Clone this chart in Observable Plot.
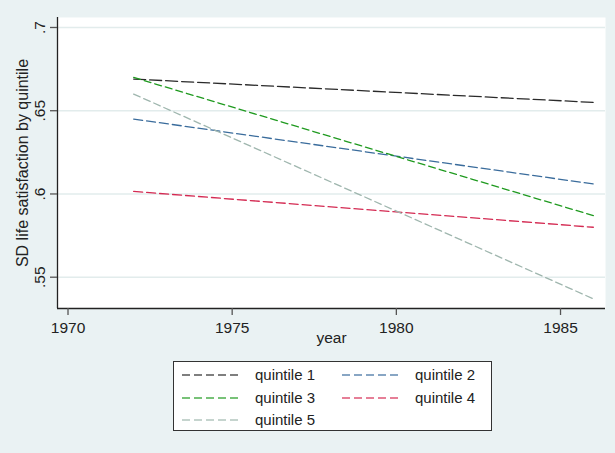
<!DOCTYPE html>
<html>
<head>
<meta charset="utf-8">
<script src="https://cdn.jsdelivr.net/npm/d3@7"></script>
<script src="https://cdn.jsdelivr.net/npm/@observablehq/plot@0.6"></script>
<style>
  html, body { margin: 0; padding: 0; background: #EAF2F3; }
  #wrap { position: relative; width: 615px; height: 453px; overflow: hidden; font-family: "Liberation Sans", Arial, sans-serif; }
  #legend { position: absolute; left: 173px; top: 361px; width: 319px; height: 70px; background: #fff; border: 1px solid #333; box-sizing: border-box; }
  .item { position: absolute; font-size: 15px; color: #222; white-space: nowrap; }
  .item svg { position: absolute; left: 0; top: 0; }
  .item span { position: absolute; top: -9px; line-height: 18px; }
</style>
</head>
<body>
<div id="wrap"><div id="chart"></div><div id="legend"></div></div>
<script>
// ---- data ----
const seriesNames = ["quintile 1", "quintile 2", "quintile 3", "quintile 4", "quintile 5"];
const years = [1972, 1986];
const q1 = [0.669, 0.655];
const q2 = [0.645, 0.606];
const q3 = [0.670, 0.587];
const q4 = [0.6015, 0.580];
const q5 = [0.660, 0.537];
const xTicks = [1970, 1975, 1980, 1985];
const yTicks = [0.55, 0.6, 0.65, 0.7];
const xTitle = "year";
const yTitle = "SD life satisfaction by quintile";

// ---- styles ----
const colors = ["#2a2a2a", "#3a6c9c", "#1f9a1f", "#d42a52", "#9fb6ae"];
const dashes = ["12,4", "9,4", "7,4", "9,4", "7,4"];

const seriesValues = [q1, q2, q3, q4, q5];
const data = [];
seriesNames.forEach((name, i) => years.forEach((yr, j) => data.push({series: name, year: yr, value: seriesValues[i][j]})));

const xDomain = [1969.68, 1986.37];
const yDomain = [0.5312, 0.706];
const fmtY = d => String(d).replace(/^0/, "");

const lineMarks = seriesNames.map((name, i) =>
  Plot.line(data.filter(d => d.series === name), {
    x: "year", y: "value", stroke: colors[i], strokeWidth: 1.3, strokeDasharray: dashes[i]
  })
);

const chart = Plot.plot({
  width: 615,
  height: 453,
  marginLeft: 57,
  marginRight: 10,
  marginTop: 17,
  marginBottom: 145,
  style: { background: "transparent", fontFamily: "'Liberation Sans', Arial, sans-serif", fontSize: "15px", color: "#222" },
  x: { domain: xDomain },
  y: { domain: yDomain },
  marks: [
    Plot.frame({ fill: "white", stroke: null }),
    Plot.gridY(yTicks, { stroke: "#e2ecec", strokeOpacity: 1, strokeWidth: 1.5 }),
    Plot.ruleX([xDomain[0]], { stroke: "#222", strokeWidth: 1.3 }),
    Plot.ruleY([yDomain[0]], { stroke: "#222", strokeWidth: 1.3 }),
    Plot.axisX(xTicks, { tickSize: 7, tickPadding: 6, stroke: "#555", strokeWidth: 1.3, tickFormat: d => String(d), label: null, fill: "#222", fontSize: 15.5 }),
    Plot.axisY(yTicks, { tickSize: 7, tickPadding: 6, tickRotate: -90, stroke: "#555", strokeWidth: 1.3, tickFormat: fmtY, label: null, fill: "#222", fontSize: 15.5 }),
    Plot.text([xTitle], { frameAnchor: "bottom", dy: 34, text: d => d, fill: "#222", fontSize: 15.5, textAnchor: "middle" }),
    Plot.text([yTitle], { frameAnchor: "left", dx: -35, rotate: -90, text: d => d, fill: "#222", fontSize: 16, textAnchor: "middle" }),
    ...lineMarks
  ]
});
document.getElementById("chart").appendChild(chart);

// ---- legend ----
const legend = document.getElementById("legend");
const rowsY = [13, 36, 58];
const colX = [[8, 81], [168, 241]];
seriesNames.forEach((name, i) => {
  const row = Math.floor(i / 2), col = i % 2;
  const item = document.createElement("div");
  item.className = "item";
  item.style.left = colX[col][0] + "px";
  item.style.top = rowsY[row] + "px";
  item.innerHTML = `<svg width="62" height="4" style="top:-2px"><line x1="0" y1="2" x2="60" y2="2" stroke="${colors[i]}" stroke-width="1.6" stroke-dasharray="8,4" stroke-opacity="0.8"/></svg><span style="left:${colX[col][1] - colX[col][0]}px">${name}</span>`;
  legend.appendChild(item);
});
</script>
</body>
</html>
